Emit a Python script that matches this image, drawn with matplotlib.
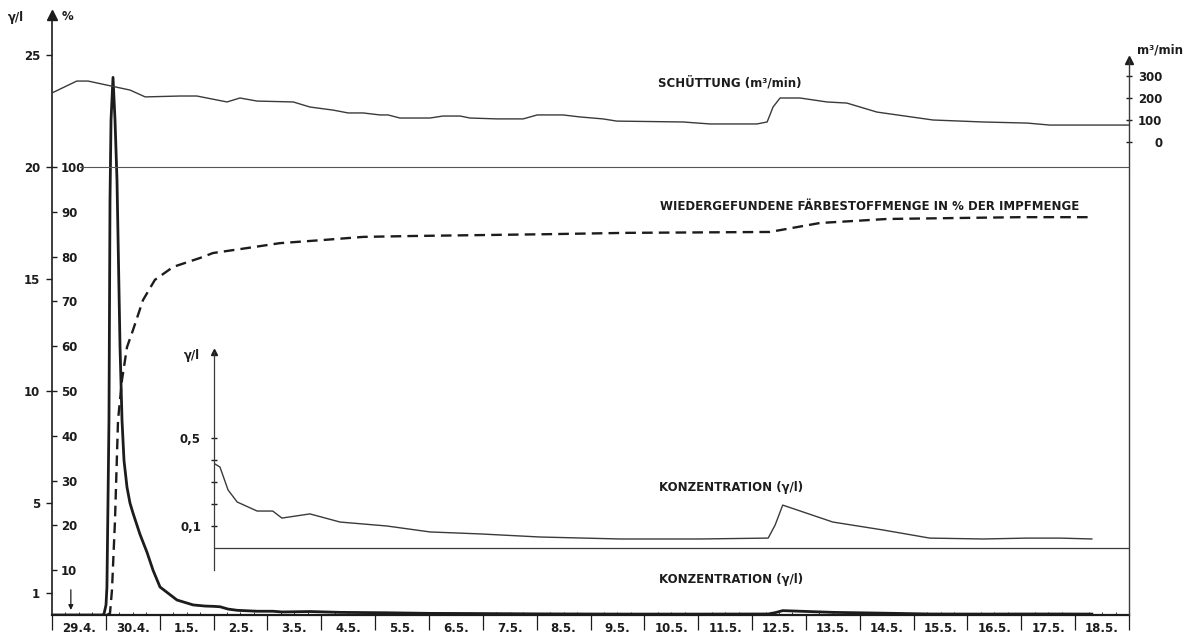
import numpy as np
import matplotlib
matplotlib.use("Agg")
import matplotlib.pyplot as plt

W, H = 1198, 635
INK = "#1c1c1c"
THIN = "#3a3a3a"

# time in days from 29.4. 00:00
day_labels = ["29.4.", "30.4."] + [f"{d}.5." for d in range(1, 19)]
inj_t = 0.35  # injection (arrow)

# dye concentration, gamma/l - main passage
conc_t = [0.0, 0.947, 0.966, 1.003, 1.02, 1.04, 1.058, 1.077, 1.096, 1.133, 1.17,
          1.207, 1.263, 1.30, 1.337, 1.393, 1.448, 1.504, 1.634, 1.764, 1.876,
          2.006, 2.32, 2.62, 2.84]
conc = [0, 0, 0.05, 0.45, 1.25, 5.1, 8.7, 18.5, 22.1, 24.0, 22.1,
        19.4, 12.0, 8.7, 6.9, 5.7, 5.0, 4.55, 3.6, 2.8, 2.0,
        1.25, 0.67, 0.45, 0.40]

# dye concentration, gamma/l - tail (inset)
tail_t = [3.0, 3.12, 3.27, 3.44, 3.81, 4.10, 4.27, 4.79, 5.35, 6.22, 7.02, 7.95,
          9.06, 10.55, 12.03, 13.30, 13.43, 13.57, 14.50, 15.43, 16.30, 17.29,
          18.11, 18.72, 19.31]
tail = [0.386, 0.368, 0.264, 0.209, 0.168, 0.168, 0.136, 0.155, 0.118, 0.10, 0.073,
        0.064, 0.05, 0.041, 0.041, 0.045, 0.105, 0.195, 0.118, 0.082, 0.045, 0.041,
        0.045, 0.045, 0.041]

# recovered dye, % of injected amount
rec_t = [1.02, 1.077, 1.114, 1.17, 1.226, 1.30, 1.393, 1.504, 1.69, 1.91, 2.25, 2.75,
         2.99, 3.62, 4.23, 5.03, 5.78, 6.70, 7.95, 9.19, 10.68, 13.33, 14.26, 15.51,
         16.73, 17.98, 19.33]
rec = [0, 0.4, 5.6, 21.2, 43.5, 52.5, 59.8, 63.6, 70.3, 74.8, 77.7, 79.7,
       80.8, 81.9, 83.0, 83.7, 84.4, 84.6, 84.8, 85.0, 85.3, 85.5, 87.5, 88.4,
       88.6, 88.8, 88.8]

# discharge, m3/min
q_t = [0, 0.46, 0.67, 1.45, 1.73, 2.38, 2.69, 3.25, 3.49, 3.81, 4.48, 4.79, 5.22,
       5.50, 5.78, 6.09, 6.24, 6.46, 7.02, 7.26, 7.58, 7.76, 8.26, 8.75, 9.01, 9.49,
       9.80, 10.23, 10.49, 11.72, 12.22, 13.09, 13.28, 13.39, 13.52, 13.89, 14.39,
       14.76, 15.32, 16.36, 17.29, 18.11, 18.53, 19.46, 20.0]
q = [223, 277, 277, 236, 205, 209, 209, 182, 200, 186, 182, 159, 145,
     132, 132, 123, 123, 109, 109, 118, 118, 109, 105, 105, 123, 123,
     114, 105, 95, 91, 82, 82, 91, 159, 200, 200, 182,
     177, 136, 100, 91, 86, 77, 77, 77]

conc_ticks = [1, 5, 10, 15, 20, 25]
pct_ticks = list(range(10, 101, 10))
q_ticks = [0, 100, 200, 300]
inset_ticks = [0.1, 0.2, 0.3, 0.4, 0.5]
inset_labels = ["0,1", "", "", "", "0,5"]

plt.rcParams["font.family"] = ["DejaVu Sans"]
plt.rcParams["font.weight"] = "bold"
FS = 8.5


def box(x0, y0, x1, y1):
    return [x0 / W, 1 - y1 / H, (x1 - x0) / W, (y1 - y0) / H]


def ftext(x, y, s, **kw):
    fig.text(x / W, 1 - y / H, s, fontsize=FS, color=INK, va="center", **kw)


fig = plt.figure(figsize=(W / 100, H / 100), dpi=100)

ax = fig.add_axes(box(52, 15, 1129, 615))
ax.set_xlim(0, 20)
ax.set_ylim(0, 600 / 22.4)
ax_pct = ax.twinx()
ax_pct.set_ylim(0, 5 * 600 / 22.4)
ax_q = ax.twinx()
ax_q.set_ylim(-(615 - 142) / 0.22, (142 - 15) / 0.22)

for a in (ax, ax_pct, ax_q):
    for s in a.spines.values():
        s.set_visible(False)
ax.spines["left"].set_visible(True)
ax.spines["bottom"].set_visible(True)
ax.spines["left"].set_linewidth(1.2)
ax.spines["bottom"].set_linewidth(1.6)
ax.spines["left"].set_color(INK)
ax.spines["bottom"].set_color(INK)
ax_q.spines["right"].set_visible(True)
ax_q.spines["right"].set_linewidth(1.0)
ax_q.spines["right"].set_color(THIN)
q_arrow = (142 - 60) / 0.22
ax_q.spines["right"].set_bounds(ax_q.get_ylim()[0], q_arrow)

# arrow heads on axes
ax.plot(0, 1.0, marker="^", ms=7, color=INK, transform=ax.transAxes, clip_on=False)
ax_q.plot(1, q_arrow, marker="^", ms=6, color=INK,
          transform=ax_q.get_yaxis_transform(), clip_on=False)

# curves
ax.plot(conc_t + tail_t, conc + tail, color=INK, lw=2.0, solid_joinstyle="round")
ax_pct.plot(rec_t, rec, color=INK, lw=1.7, ls=(0, (4.5, 2.6)))
ax_q.plot(q_t, q, color=THIN, lw=1.0)
ax_pct.axhline(100, xmin=0.026, color="#555555", lw=0.8)

ax.annotate("", xy=(inj_t, 0.1), xytext=(inj_t, 1.25),
            arrowprops=dict(arrowstyle="-|>", lw=0.9, color=INK, mutation_scale=7))

# y ticks
ax.set_yticks(conc_ticks)
ax.tick_params(axis="y", direction="out", length=4.5, width=1, pad=4,
               labelsize=FS, colors=INK)
ax_pct.spines["right"].set_position(("axes", 0))
ax_pct.set_yticks(pct_ticks)
ax_pct.tick_params(axis="y", direction="out", length=3.5, width=1, pad=3,
                   labelsize=FS, colors=INK)
ax_q.set_yticks(q_ticks)
ax_q.tick_params(axis="y", direction="inout", length=5, width=1, pad=21.5,
                 labelsize=FS, colors=INK)
for lbl in ax_q.get_yticklabels():
    lbl.set_horizontalalignment("right")

# x ticks: day boundaries below, quarter days above, labels centred on days
ax.set_xticks(range(21))
ax.set_xticks(np.arange(0, 20, 0.25), minor=True)
ax.tick_params(axis="x", which="major", direction="out", length=11, width=0.9,
               labelbottom=False, colors=INK)
ax.tick_params(axis="x", which="minor", direction="in", length=2.5, width=0.7,
               colors=THIN)
secx = ax.secondary_xaxis("bottom")
secx.set_xticks(np.arange(20) + 0.5, day_labels)
secx.tick_params(length=0, pad=5, labelsize=FS, colors=INK)
secx.spines["bottom"].set_visible(False)

# inset: tail of the concentration curve
ins = fig.add_axes(box(213.5, 352, 1129, 570))
ins.patch.set_alpha(0)
ins.set_xlim(3, 20)
ins.set_ylim(-22 / 220, 196 / 220)
for s in ins.spines.values():
    s.set_visible(False)
ins.spines["left"].set_visible(True)
ins.spines["left"].set_linewidth(0.9)
ins.spines["left"].set_color(THIN)
ins.plot(tail_t, tail, color=THIN, lw=1.0)
ins.axhline(0, color=THIN, lw=0.9)
ins.plot(0, 1.0, marker="^", ms=5, color=INK, transform=ins.transAxes, clip_on=False)
ins.set_xticks([])
ins.set_yticks(inset_ticks, inset_labels)
ins.tick_params(axis="y", direction="inout", length=4, width=1, pad=7,
                labelsize=FS, colors=INK)

# labels
ftext(8, 17, "γ/l")
ftext(62, 17, "%")
ftext(1137, 50, "m³/min")
ftext(184, 355, "γ/l")
ftext(658, 83, "SCHÜTTUNG (m³/min)")
ftext(660, 206, "WIEDERGEFUNDENE FÄRBESTOFFMENGE IN % DER IMPFMENGE")
ftext(659, 488, "KONZENTRATION (γ/l)")
ftext(659, 580, "KONZENTRATION (γ/l)")

fig.savefig("out.png", dpi=100)
